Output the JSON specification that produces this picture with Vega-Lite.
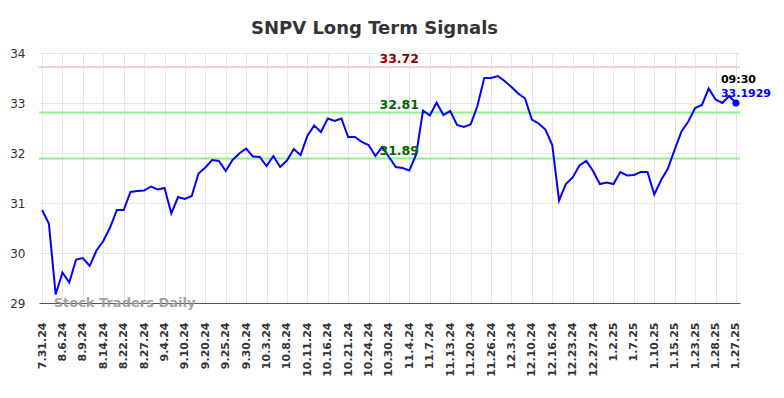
{
  "$schema": "https://vega.github.io/schema/vega-lite/v6.json",
  "width": 701,
  "height": 250,
  "autosize": {"type": "none"},
  "padding": {"left": 39, "top": 53, "right": 44, "bottom": 95},
  "title": {"text": "SNPV Long Term Signals", "font": "DejaVu Sans", "fontSize": 18, "fontWeight": "bold", "color": "#333333", "dx": -15, "dy": 25, "offset": 20, "frame": "group", "baseline": "alphabetic"},
  "config": {
    "view": {"stroke": null},
    "axis": {"title": null, "grid": true, "gridColor": "#e6e6e6", "gridWidth": 1, "ticks": false, "tickSize": 0, "labelFont": "DejaVu Sans", "labelColor": "#333333"},
    "axisX": {"domain": true, "domainColor": "#555555", "domainWidth": 1.2, "labelFontSize": 11, "labelFontWeight": "bold", "labelAngle": -90, "labelAlign": "right", "labelBaseline": "middle", "labelPadding": 19, "labelOverlap": false, "labelFlush": false},
    "axisY": {"domain": false, "labelFontSize": 12, "labelPadding": 14}
  },
  "datasets": {
    "prices": [
      {"i": 0, "v": 30.86}, {"i": 1, "v": 30.59}, {"i": 2, "v": 29.17}, {"i": 3, "v": 29.61}, {"i": 4, "v": 29.41},
      {"i": 5, "v": 29.87}, {"i": 6, "v": 29.9}, {"i": 7, "v": 29.74}, {"i": 8, "v": 30.05}, {"i": 9, "v": 30.24},
      {"i": 10, "v": 30.51}, {"i": 11, "v": 30.86}, {"i": 12, "v": 30.86}, {"i": 13, "v": 31.22}, {"i": 14, "v": 31.24},
      {"i": 15, "v": 31.25}, {"i": 16, "v": 31.33}, {"i": 17, "v": 31.27}, {"i": 18, "v": 31.3}, {"i": 19, "v": 30.79},
      {"i": 20, "v": 31.12}, {"i": 21, "v": 31.08}, {"i": 22, "v": 31.14}, {"i": 23, "v": 31.59}, {"i": 24, "v": 31.71},
      {"i": 25, "v": 31.86}, {"i": 26, "v": 31.84}, {"i": 27, "v": 31.64}, {"i": 28, "v": 31.86}, {"i": 29, "v": 31.99},
      {"i": 30, "v": 32.09}, {"i": 31, "v": 31.93}, {"i": 32, "v": 31.92}, {"i": 33, "v": 31.74}, {"i": 34, "v": 31.94},
      {"i": 35, "v": 31.72}, {"i": 36, "v": 31.85}, {"i": 37, "v": 32.08}, {"i": 38, "v": 31.96}, {"i": 39, "v": 32.34},
      {"i": 40, "v": 32.55}, {"i": 41, "v": 32.42}, {"i": 42, "v": 32.69}, {"i": 43, "v": 32.64}, {"i": 44, "v": 32.69},
      {"i": 45, "v": 32.32}, {"i": 46, "v": 32.32}, {"i": 47, "v": 32.22}, {"i": 48, "v": 32.16}, {"i": 49, "v": 31.94},
      {"i": 50, "v": 32.12}, {"i": 51, "v": 31.92}, {"i": 52, "v": 31.72}, {"i": 53, "v": 31.7}, {"i": 54, "v": 31.65},
      {"i": 55, "v": 31.97}, {"i": 56, "v": 32.85}, {"i": 57, "v": 32.75}, {"i": 58, "v": 33.01}, {"i": 59, "v": 32.76},
      {"i": 60, "v": 32.84}, {"i": 61, "v": 32.56}, {"i": 62, "v": 32.52}, {"i": 63, "v": 32.57}, {"i": 64, "v": 32.94},
      {"i": 65, "v": 33.5}, {"i": 66, "v": 33.5}, {"i": 67, "v": 33.54}, {"i": 68, "v": 33.44}, {"i": 69, "v": 33.32},
      {"i": 70, "v": 33.19}, {"i": 71, "v": 33.09}, {"i": 72, "v": 32.67}, {"i": 73, "v": 32.59}, {"i": 74, "v": 32.47},
      {"i": 75, "v": 32.16}, {"i": 76, "v": 31.05}, {"i": 77, "v": 31.38}, {"i": 78, "v": 31.51}, {"i": 79, "v": 31.75},
      {"i": 80, "v": 31.84}, {"i": 81, "v": 31.64}, {"i": 82, "v": 31.38}, {"i": 83, "v": 31.41}, {"i": 84, "v": 31.38},
      {"i": 85, "v": 31.62}, {"i": 86, "v": 31.55}, {"i": 87, "v": 31.56}, {"i": 88, "v": 31.62}, {"i": 89, "v": 31.62},
      {"i": 90, "v": 31.17}, {"i": 91, "v": 31.46}, {"i": 92, "v": 31.69}, {"i": 93, "v": 32.07}, {"i": 94, "v": 32.43},
      {"i": 95, "v": 32.63}, {"i": 96, "v": 32.9}, {"i": 97, "v": 32.96}, {"i": 98, "v": 33.29}, {"i": 99, "v": 33.07},
      {"i": 100, "v": 33.0}, {"i": 101, "v": 33.14}, {"i": 102, "v": 33.0}
    ],
    "levels": [
      {"v": 33.72, "label": "33.72", "kind": "resistance"},
      {"v": 32.81, "label": "32.81", "kind": "support"},
      {"v": 31.89, "label": "31.89", "kind": "support"}
    ]
  },
  "layer": [
    {
      "data": {"name": "levels"},
      "mark": {"type": "rule", "strokeWidth": 2},
      "encoding": {
        "y": {"field": "v", "type": "quantitative", "scale": {"domain": [29, 34], "nice": false, "zero": false}},
        "color": {"condition": {"test": "datum.kind === 'resistance'", "value": "#ffcccc"}, "value": "#90ee90"}
      }
    },
    {
      "data": {"name": "prices"},
      "mark": {"type": "line", "color": "#0000ff", "strokeWidth": 2},
      "encoding": {
        "x": {"field": "i", "type": "quantitative", "scale": {"domain": [-0.45, 102.6], "nice": false, "zero": false},
              "axis": {"values": [0,3,6,9,12,15,18,21,24,27,30,33,36,39,42,45,48,51,54,57,60,63,66,69,72,75,78,81,84,87,90,93,96,99,102],
                       "tickCount": 200, "labelOverlap": false, "labelFlush": false,
                       "labelExpr": "['7.31.24','8.6.24','8.9.24','8.14.24','8.22.24','8.27.24','9.4.24','9.10.24','9.20.24','9.25.24','9.30.24','10.3.24','10.8.24','10.11.24','10.16.24','10.21.24','10.24.24','10.30.24','11.4.24','11.7.24','11.13.24','11.20.24','11.26.24','12.3.24','12.10.24','12.16.24','12.23.24','12.27.24','1.2.25','1.7.25','1.10.25','1.15.25','1.23.25','1.28.25','1.27.25'][round(datum.value/3)]"}},
        "y": {"field": "v", "type": "quantitative", "axis": {"values": [29, 30, 31, 32, 33, 34], "tickCount": 20, "format": ".0f"}}
      }
    },
    {
      "data": {"name": "levels"},
      "mark": {"type": "text", "font": "DejaVu Sans", "fontSize": 12.5, "fontWeight": "bold", "align": "center", "baseline": "alphabetic", "dy": -4},
      "encoding": {
        "x": {"datum": 52.5, "type": "quantitative"},
        "y": {"field": "v", "type": "quantitative"},
        "text": {"field": "label"},
        "color": {"condition": {"test": "datum.kind === 'resistance'", "value": "#8b0000"}, "value": "#006400"}
      }
    },
    {
      "data": {"name": "prices"},
      "transform": [{"filter": "datum.i === 102"}],
      "layer": [
        {"mark": {"type": "circle", "color": "#0000ff", "opacity": 1, "size": 50}},
        {"mark": {"type": "text", "font": "DejaVu Sans", "fontSize": 11, "fontWeight": "bold", "align": "left", "baseline": "alphabetic", "dx": -15, "dy": -20, "color": "#000000", "text": "09:30"}},
        {"mark": {"type": "text", "font": "DejaVu Sans", "fontSize": 11, "fontWeight": "bold", "align": "left", "baseline": "alphabetic", "dx": -15, "dy": -6, "color": "#0000ff", "text": "33.1929"}}
      ],
      "encoding": {
        "x": {"field": "i", "type": "quantitative"},
        "y": {"field": "v", "type": "quantitative"}
      }
    },
    {
      "data": {"values": [{"note": "Stock Traders Daily"}]},
      "mark": {"type": "text", "font": "DejaVu Sans", "fontSize": 13, "fontWeight": "bold", "align": "left", "baseline": "middle", "color": "#999999", "opacity": 0.9},
      "encoding": {
        "x": {"datum": 1.7, "type": "quantitative"},
        "y": {"datum": 29, "type": "quantitative"},
        "text": {"field": "note"}
      }
    }
  ]
}
